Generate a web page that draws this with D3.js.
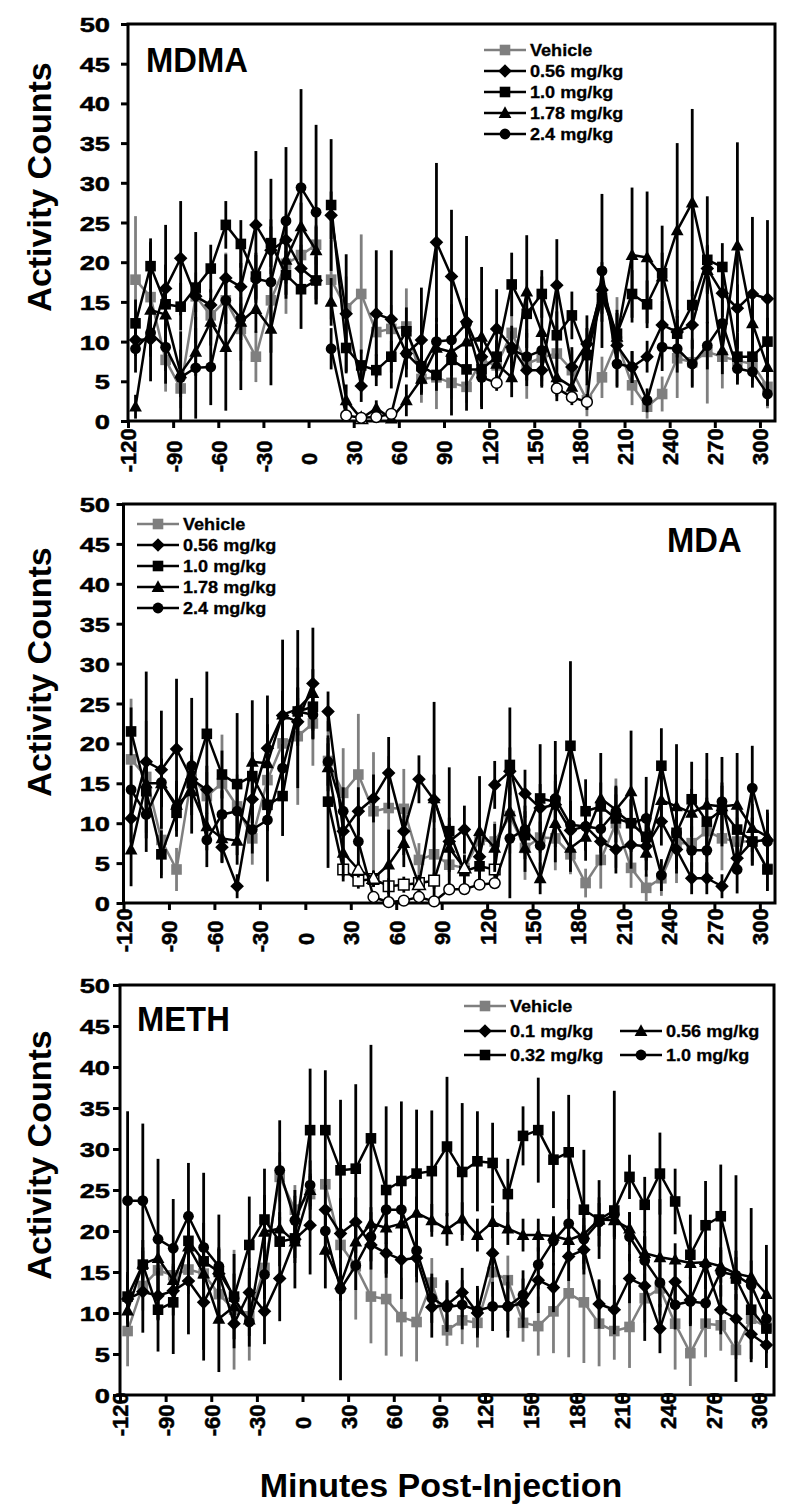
<!DOCTYPE html>
<html><head><meta charset="utf-8">
<script src="https://cdn.jsdelivr.net/npm/d3@7"></script>
<style>
body{margin:0;background:#fff}
svg{display:block}
text{font-family:"Liberation Sans",Arial,Helvetica,sans-serif;font-weight:bold;fill:#000}
</style>
</head><body>
<svg id="c" width="795" height="1512"></svg>
<script>
// ---------- shared categories ----------
const minutes = [-115,-105,-95,-85,-75,-65,-55,-45,-35,-25,-15,-5,5,
  15,25,35,45,55,65,75,85,95,105,115,125,135,145,155,165,175,185,195,205,215,225,235,245,255,265,275,285,295,305];
const preCount = 13; // points before the injection gap
const xTicks = [-120,-90,-60,-30,0,30,60,90,120,150,180,210,240,270,300];
const yTicks = [0,5,10,15,20,25,30,35,40,45,50];
const xTitle = "Minutes Post-Injection";
const yTitle = "Activity Counts";

// ---------- MDMA ----------
const mdmaLabels = ["Vehicle","0.56 mg/kg","1.0 mg/kg","1.78 mg/kg","2.4 mg/kg"];
const mdmaVehicle = [17.8,15.6,7.7,4.1,15.7,13.3,15.2,11.6,8.1,15.2,19.8,20.9,22.2,
  17.8,14.2,16.0,11.2,11.6,11.9,5.3,5.5,4.8,4.3,7.6,7.0,11.1,7.2,8.0,8.5,6.4,2.6,5.5,10.0,4.5,1.8,3.4,7.9,7.4,8.7,8.1,7.6,7.2,4.3];
const mdma056 = [10.2,10.3,16.7,20.5,15.7,14.6,18.0,16.9,24.7,21.5,22.8,19.2,17.7,
  25.9,13.5,4.4,13.5,12.8,8.5,10.2,22.5,18.2,12.5,8.1,11.6,9.3,6.4,6.4,17.1,6.8,9.7,16.5,9.5,6.8,8.1,12.1,11.2,12.1,19.2,16.1,14.2,16.0,15.4];
const mdma10 = [12.3,19.5,14.7,14.4,16.8,19.2,24.7,22.3,18.2,22.4,18.4,16.6,17.7,
  27.2,9.2,7.0,6.4,8.1,11.3,6.9,5.8,7.7,6.5,6.5,8.1,17.2,13.5,16.0,10.8,13.3,8.3,15.5,11.0,16.0,14.7,18.6,11.0,14.6,20.3,19.4,8.1,8.1,10.0];
const mdma178 = [1.8,14.0,13.4,6.0,8.7,12.5,9.3,12.5,14.1,11.6,20.3,24.5,21.5,
  15.0,2.6,0.3,1.6,0.3,2.6,5.3,9.2,8.7,10.0,10.6,7.2,5.5,16.3,11.2,5.5,4.3,8.9,17.0,10.6,20.9,20.6,18.2,24.0,27.5,19.0,8.9,22.1,12.3,6.8];
const mdma24 = [9.1,11.1,9.3,5.5,6.7,6.8,15.2,12.9,17.9,17.5,25.2,29.4,26.3,
  9.1,0.7,0.4,0.5,0.9,8.5,6.6,10.0,10.2,12.3,5.5,4.8,9.0,8.1,8.9,4.1,3.0,2.4,18.9,7.2,6.8,2.6,9.3,9.1,7.2,9.5,12.3,6.6,6.2,3.4];
const mdmaVehicleSem = [8,7,4,2.5,3,3,6,4,3.2,4,6.3,3,2.5,
  5,4,7.5,3,3,4.8,3,4,2,2,2.5,2.5,4.7,4.4,3,3.5,2.5,2,2.6,5.6,2.5,1.5,2.2,5,3,6.5,4,3,2.5,2.7];
const mdma056Sem = [2,2,3,7.2,2,2,3,3,9.3,3,3,3,3,
  3,7.5,2,8,8.7,2,6.6,10,8.4,3,2,5,2,2,2,5.8,2.5,2,3,2,2,2,3,2,3,3,3,3,9.7,9.9];
const mdma10Sem = [3,3,10,3,7,3,3,3,3,3,3,5,3,
  8.3,3,2,2,2,3,2,2,7,2,2,2,4,3,3,3,3,2,3,3,3,3,6,3,3,8,3,3,3,3];
const mdma178Sem = [1.5,9,3,3,3,3,8,2.3,3,3,3,3,3,
  3,2,0.5,1,0.5,2,2,3,3,3,8.8,3,2.5,7.1,7,3,2,4.4,3,3,8.5,8.3,3,11,11.8,3,3,13,3,3];
const mdma24Sem = [3,3,3,5.8,6.4,4.8,3,9,3,13,9.3,12.4,11,
  2.6,0.5,0.5,0.5,0.5,3,3,3,3,11,4,1,3,3,3,1,1,1,9.7,3,2,1.5,3,3,3,3,3,2,2,1.5];
const mdmaOpen = [[],[],[],[15],[14,15,16,17,24,28,29,30]];

// ---------- MDA ----------
const mdaLabels = ["Vehicle","0.56 mg/kg","1.0 mg/kg","1.78 mg/kg","2.4 mg/kg"];
const mdaVehicle = [18.0,15.8,7.9,4.2,15.9,13.4,15.0,12.1,8.1,15.4,20.0,20.9,22.5,
  17.8,13.8,16.1,11.5,11.9,11.8,5.4,6.1,4.8,4.4,7.9,7.7,10.9,6.9,8.2,8.1,6.1,2.5,5.4,10.0,4.4,1.9,3.1,7.5,7.5,9.0,8.1,7.7,7.7,4.3];
const mda056 = [10.6,17.7,16.7,19.3,15.5,14.2,7.0,2.1,13.0,19.4,23.5,22.7,27.5,
  24.0,9.0,11.5,13.1,16.3,9.0,15.5,12.9,7.7,9.2,5.8,14.8,16.5,13.7,11.9,12.3,9.1,9.6,7.7,6.7,7.3,7.1,10.2,6.7,3.1,3.1,2.1,5.6,7.7,7.9];
const mda10 = [21.5,14.0,6.1,11.3,15.0,21.2,16.1,14.9,15.9,12.3,13.4,24.0,24.6,
  12.7,4.2,2.8,3.0,2.1,2.3,2.5,2.8,9.0,4.0,4.6,4.2,17.3,8.5,13.1,12.7,19.7,11.5,12.1,10.6,10.0,8.3,17.2,8.8,13.0,10.2,11.7,9.2,7.7,4.2];
const mda178 = [6.7,15.0,15.0,12.3,14.0,9.6,8.1,7.8,17.7,17.5,23.6,24.3,26.3,
  17.0,6.3,4.2,3.1,4.8,7.5,2.3,13.1,6.9,4.4,9.0,6.9,11.5,6.9,3.1,10.0,6.9,8.3,13.1,11.7,14.0,6.3,12.9,12.1,11.3,12.3,12.1,12.3,9.4,8.3];
const mda24 = [14.2,11.1,15.1,12.0,17.2,7.9,11.1,11.5,9.2,10.4,16.9,24.0,23.6,
  17.7,11.5,7.7,0.75,0.1,0.3,0.75,0.2,1.7,1.75,2.3,2.5,8.1,9.2,7.2,13.1,9.8,9.6,9.3,11.5,10.0,10.6,3.5,8.8,6.6,6.6,12.7,4.2,14.4,7.7];
const mdaVehicleSem = [7.6,7,4.4,2.7,3,3,6.1,4,3.3,4,6,8.6,5.3,
  5,5.6,7.6,7.4,6.5,5,2.1,3.3,2,2,2.5,2.5,4.7,4,3,4,2.5,1.8,3.6,5.6,2.5,1.7,2.2,5,3,6.5,4,3,2.5,2.7];
const mda056Sem = [3,11.3,7.4,8.8,3,3,2,1.5,3,3,9.5,3,7,
  2.5,3,3,3,4.5,3,3,12.3,3,3,2,3,3,3,3,3,3,3,3,3,3,3,3,3,2,2,1.5,2,3,3];
const mda10Sem = [3,3,3,3,3,7.8,3,8.9,3,3,5,3,3,
  8.3,1.5,1,1,1,1,1,1,8,2,2,1,7.2,3,6.8,7.6,10.6,4,3,3,3,3,4.7,3,4.7,3,3,3,3,2.7];
const mda178Sem = [4.6,3,3,3,3,3,3,3,7.7,8.5,3,9.9,3,
  3,3,1,1,4.4,3,1,3,3,1,6.9,3,3,3,2,3,3,3,5.7,3,7.6,3,3,7.8,3,6.5,3,6.5,3,3];
const mda24Sem = [3,3,3,3,8.5,3.4,3,3,3,7.7,3,3,3,
  3,3,3,0.5,0.5,0.5,0.5,0.5,0.5,0.5,0.5,0.5,7.5,3,3,3,3,3,3,3,3,5.2,2,3,3,3,5.6,3,5.3,4];
const mdaOpen = [[],[],[14,15,16,17,18,19,20,24],[15,16,19,22],[16,17,18,19,20,21,22,23,24]];

// ---------- METH ----------
const methLabels = ["Vehicle","0.1 mg/kg","0.32 mg/kg","0.56 mg/kg","1.0 mg/kg"];
const methVehicle = [7.8,13.3,15.2,14.6,15.3,14.8,12.3,10.4,9.6,15.5,26.6,22.6,24.5,
  25.7,18.3,15.7,12.0,11.7,9.5,8.9,13.7,7.9,9.1,8.8,15.0,14.0,8.8,8.4,10.2,12.4,11.3,8.7,7.8,8.3,11.8,13.0,8.7,5.1,8.7,8.5,5.5,9.3,8.3];
const meth01 = [11.7,12.6,12.1,12.7,13.9,11.3,14.8,8.7,12.5,10.2,14.2,19.0,20.7,
  22.6,19.7,21.1,18.3,17.3,16.5,16.7,10.7,11.0,12.5,10.0,17.3,10.8,11.2,14.0,13.1,16.9,17.7,11.1,10.4,14.2,13.3,8.1,13.8,11.6,15.9,10.4,9.3,7.4,6.1];
const meth032 = [12.0,15.9,10.4,11.3,18.8,16.3,15.0,12.0,18.3,21.4,18.7,19.1,32.3,
  32.3,27.4,27.6,31.3,25.0,26.1,27.0,27.3,30.3,27.2,28.5,28.3,24.5,31.6,32.3,28.7,29.6,22.6,21.4,22.5,26.6,23.2,27.0,23.6,17.1,20.7,21.8,14.2,10.4,8.1];
const meth056 = [10.3,16.0,16.7,14.0,18.1,14.8,9.3,10.8,9.2,19.9,20.3,18.7,25.0,
  17.7,13.5,18.7,20.9,20.4,20.9,22.2,21.3,20.2,21.5,19.5,21.1,20.3,19.5,19.5,19.4,18.9,19.6,21.4,21.3,20.3,17.3,16.8,16.5,16.1,16.2,15.7,14.8,14.4,12.3];
const meth10 = [23.7,23.7,19.0,17.9,21.8,18.0,15.7,11.8,8.9,14.7,27.4,21.3,25.6,
  20.0,12.9,15.8,19.3,22.6,22.6,17.6,11.8,10.7,11.0,10.3,10.8,10.8,12.2,15.9,18.8,20.9,19.0,21.1,22.0,19.3,16.4,13.7,11.0,11.4,11.2,15.0,14.6,13.4,9.3];
const methVehicleSem = [4.3,3,3,3,3,3,3,7.3,5.4,3,3,3,3,
  3,3,6.5,5.7,6.9,4.8,4.8,3,1.9,2.9,3,3,3,2.3,3.6,5.1,7.8,7.4,5.2,3.5,5,3,3,5.6,4,4.1,3.1,1.1,3,3];
const meth01Sem = [3,5,3,3,6.5,7.1,3,3,3,4,5.2,6,6,
  3,3,3,3,3,4.8,3,3.7,3,3,3,3,3,3,4,3,3,3,3,3,3,6.7,3,3,3,3,3,3,3,2.8];
const meth032Sem = [3,3,5.1,6.3,3,10.8,3,5.2,5.9,3,3,3,7.5,
  7.3,8.6,10.3,11.4,10.2,9.7,7.8,7.4,8.5,8.4,6.1,4.9,4.3,3.6,6.4,5.9,7,7.3,4.8,14.6,2.7,3.4,5,4,4.9,5.4,6.3,12.6,3,3];
const meth056Sem = [2,2,2,2,2,2,6.5,2,2,7.7,2,2,2,
  4.7,2,2,2,2,2,2,2,2,2,2,2,2,2,2,2,2,2,2,2,2,2,7.1,2,2,2,2,2,2,6];
const meth10Sem = [10.9,9.4,9.8,6,6.5,3,6.3,3,3,3,6.1,3,3,
  3,11.1,3,3,3,3,3.2,3,3,3,3,3,3.8,3,3,3,3,3,3,3,3,3,3,3,3,3,3,3,9.4,3];
const methOpen = [[],[],[],[],[]];

// ---------- series styling (by position) ----------
const shapes = ["square","diamond","square","triangle","circle"];
const colors = ["#7f7f7f","#000","#000","#000","#000"];

const datasets = [
  {title:"MDMA", labels:mdmaLabels, values:[mdmaVehicle,mdma056,mdma10,mdma178,mdma24],
   sems:[mdmaVehicleSem,mdma056Sem,mdma10Sem,mdma178Sem,mdma24Sem], open:mdmaOpen},
  {title:"MDA", labels:mdaLabels, values:[mdaVehicle,mda056,mda10,mda178,mda24],
   sems:[mdaVehicleSem,mda056Sem,mda10Sem,mda178Sem,mda24Sem], open:mdaOpen},
  {title:"METH", labels:methLabels, values:[methVehicle,meth01,meth032,meth056,meth10],
   sems:[methVehicleSem,meth01Sem,meth032Sem,meth056Sem,meth10Sem], open:methOpen}
];

// ---------- layout ----------
const layouts = [
  {left:128, right:775, top:24, bottom:421, xLabStart:465, yTitleCY:187, titleX:146, titleY:72,
   legend:[{x:484,y:50},{x:484,y:71},{x:484,y:92},{x:484,y:113},{x:484,y:134}]},
  {left:123.5, right:775, top:504, bottom:903, xLabStart:945, yTitleCY:672, titleX:667, titleY:552,
   legend:[{x:137,y:524},{x:137,y:545},{x:137,y:566},{x:137,y:587},{x:137,y:608}]},
  {left:120, right:774, top:985, bottom:1395, xLabStart:1429, yTitleCY:1155, titleX:137, titleY:1031,
   legend:[{x:464,y:1006},{x:464,y:1031},{x:464,y:1055},{x:620,y:1031},{x:620,y:1055}]}
];
const legLineLen = 42;

function markerPath(shape){
  switch(shape){
    case "square": return "M-5.3,-5.3H5.3V5.3H-5.3Z";
    case "diamond": return "M0,-6.8L6.8,0L0,6.8L-6.8,0Z";
    case "triangle": return "M0,-6.8L6.4,4.9L-6.4,4.9Z";
    default: return d3.symbol(d3.symbolCircle, Math.PI*5.4*5.4)();
  }
}

const svg = d3.select("#c");

datasets.forEach((ds, pi) => {
  const L = layouts[pi];
  const x = d3.scaleLinear().domain([-120, 310]).range([L.left, L.right]);
  const y = d3.scaleLinear().domain([0, 50]).range([L.bottom, L.top]);
  const g = svg.append("g");

  // y axis
  const ya = g.append("g").attr("transform", `translate(${L.left},0)`)
    .call(d3.axisLeft(y).tickValues(yTicks).tickSize(7).tickSizeOuter(0).tickFormat(d => String(d)));
  ya.select(".domain").remove();
  ya.selectAll(".tick line").attr("stroke", "#000").attr("stroke-width", 3);
  ya.selectAll(".tick text")
    .attr("x", null).attr("dy", "0.36em")
    .attr("transform", `translate(${110 - L.left},0) scale(1.3,1)`)
    .attr("text-anchor", "end")
    .style("font-size", "21px").style("font-family", null).attr("fill", "#000")
    .attr("stroke", "#000").attr("stroke-width", 0.5);

  // x axis
  const xa = g.append("g").attr("transform", `translate(0,${L.bottom})`)
    .call(d3.axisBottom(x).tickValues(xTicks).tickSize(7).tickSizeOuter(0).tickFormat(d => String(d)));
  xa.select(".domain").remove();
  xa.selectAll(".tick line").attr("stroke", "#000").attr("stroke-width", 3);
  xa.selectAll(".tick text")
    .attr("y", null).attr("dy", "0.36em")
    .attr("transform", d => `translate(0,${L.xLabStart - L.bottom + (d < 0 ? 7.3 : 0)}) rotate(-90)`)
    .attr("text-anchor", "start")
    .style("font-size", "22px").style("font-family", null).attr("fill", "#000")
    .attr("stroke", "#000").attr("stroke-width", 0.5);

  // frame
  g.append("rect").attr("x", L.left).attr("y", L.top)
    .attr("width", L.right - L.left).attr("height", L.bottom - L.top)
    .attr("fill", "none").attr("stroke", "#000").attr("stroke-width", 3);

  // y title
  g.append("text").attr("transform", `translate(51,${L.yTitleCY}) rotate(-90)`)
    .attr("text-anchor", "middle").style("font-size", "34px").text(yTitle);

  // panel title
  g.append("text").attr("transform", `translate(${L.titleX},${L.titleY}) scale(0.91,1)`)
    .style("font-size", "36px").text(ds.title);

  // series
  const line = d3.line().x(d => x(d.t)).y(d => y(d.v));
  ds.values.forEach((vals, si) => {
    const pts = vals.map((v, i) => ({t: minutes[i], v, s: ds.sems[si][i], open: ds.open[si].includes(i)}));
    const sg = g.append("g");
    // error bars
    sg.selectAll("line.err").data(pts).join("line").attr("class", "err")
      .attr("x1", d => x(d.t)).attr("x2", d => x(d.t))
      .attr("y1", d => y(Math.max(0, d.v - d.s))).attr("y2", d => y(d.v + d.s))
      .attr("stroke", colors[si]).attr("stroke-width", 2.8);
    // lines (gap at injection)
    [pts.slice(0, preCount), pts.slice(preCount)].forEach(seg => {
      sg.append("path").attr("d", line(seg)).attr("fill", "none")
        .attr("stroke", colors[si]).attr("stroke-width", 2.5).attr("stroke-linejoin", "round");
    });
    // markers
    sg.selectAll("path.mk").data(pts).join("path").attr("class", "mk")
      .attr("d", markerPath(shapes[si]))
      .attr("transform", d => `translate(${x(d.t)},${y(d.v)})`)
      .attr("fill", d => d.open ? "#fff" : colors[si])
      .attr("stroke", d => d.open ? "#000" : "none").attr("stroke-width", 1.5);
  });

  // legend
  ds.labels.forEach((lab, si) => {
    const p = L.legend[si];
    const lg = g.append("g").attr("transform", `translate(${p.x},${p.y})`);
    lg.append("line").attr("x1", 0).attr("x2", legLineLen).attr("y1", 0).attr("y2", 0)
      .attr("stroke", colors[si]).attr("stroke-width", 2.5);
    lg.append("path").attr("d", markerPath(shapes[si])).attr("transform", `translate(${legLineLen/2},0)`)
      .attr("fill", colors[si]);
    lg.append("text").attr("transform", `translate(${legLineLen + 4},0) scale(1.13,1)`)
      .attr("dy", "0.36em").style("font-size", "16px")
      .attr("stroke", "#000").attr("stroke-width", 0.3).text(lab);
  });
});

// x title
svg.append("text").attr("x", 441).attr("y", 1497).attr("text-anchor", "middle")
  .style("font-size", "34px").text(xTitle);
</script>
</body></html>
